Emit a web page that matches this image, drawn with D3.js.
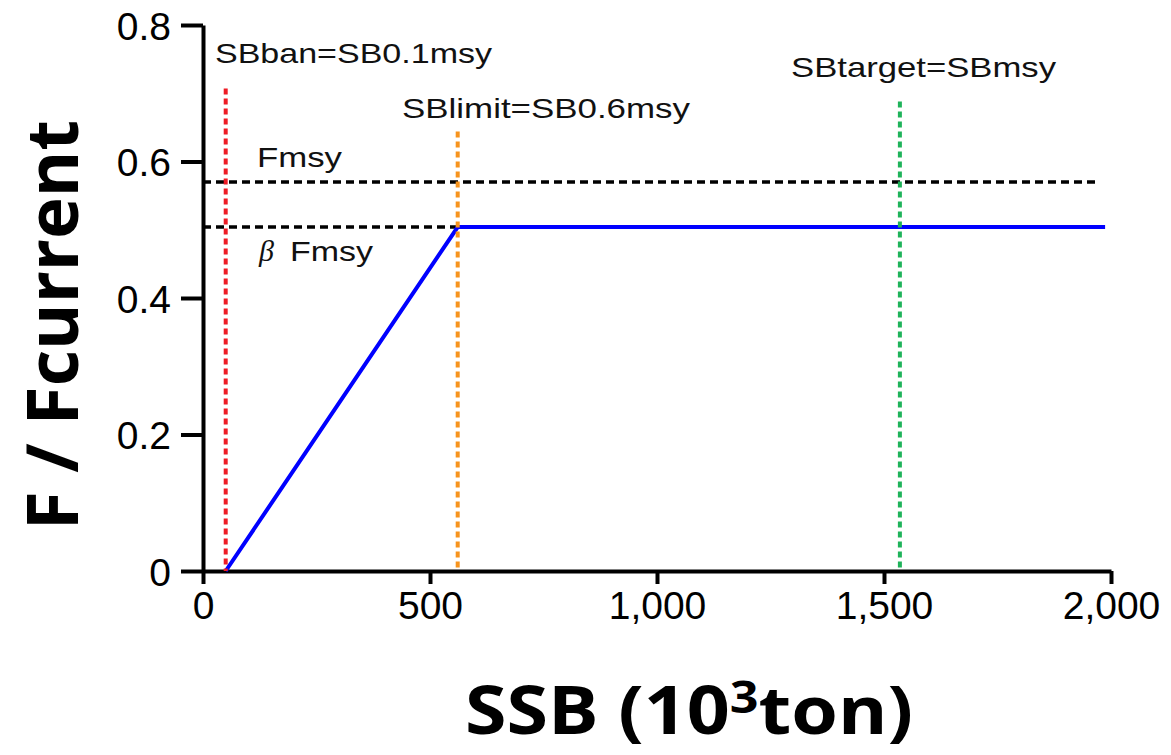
<!DOCTYPE html>
<html>
<head>
<meta charset="utf-8">
<script src="https://cdn.jsdelivr.net/npm/d3@7"></script>
<style>
  html, body { margin: 0; padding: 0; background: #fff; }
  svg { display: block; }
</style>
</head>
<body>
<svg id="chart" width="1171" height="755"></svg>
<script>
// Harvest control rule: F/Fcurrent against spawning stock biomass (10^3 ton)
const xTicks = [0, 500, 1000, 1500, 2000];
const yTicks = [0, 0.2, 0.4, 0.6, 0.8];

// Reference points
const refNames  = ["SBban=SB0.1msy", "SBlimit=SB0.6msy", "SBtarget=SBmsy"];
const refSSB    = [50, 561, 1535];
const refTopF   = [0.707, 0.644, 0.688];
const refColors = ["#ee1c25", "#f7941d", "#1fb35a"];

// Fishing mortality levels
const fmsy = 0.570;
const betaFmsy = 0.504;
const fmsyLineEnd = 1972;

// Control rule curve
const hcrSSB = [50, 561, 1987];
const hcrF   = [0, 0.504, 0.504];

const svg = d3.select("#chart");
const x = d3.scaleLinear().domain([0, 2000]).range([203, 1111]);
const y = d3.scaleLinear().domain([0, 0.8]).range([571, 25]);

// Axes
const xAxis = svg.append("g")
  .attr("transform", `translate(0,${y(0)})`)
  .call(d3.axisBottom(x).tickValues(xTicks).tickSize(13).tickSizeOuter(0)
    .tickFormat(d3.format(",")));
const yAxis = svg.append("g")
  .attr("transform", `translate(${x(0)},0)`)
  .call(d3.axisLeft(y).tickValues(yTicks).tickSize(22).tickSizeOuter(0)
    .tickFormat(d => d === 0 ? "0" : d.toFixed(1)));

[xAxis, yAxis].forEach(g => {
  g.select(".domain").attr("stroke", "#000").attr("stroke-width", 4);
  g.selectAll(".tick line").attr("stroke", "#000").attr("stroke-width", 4);
  g.selectAll(".tick text")
    .attr("fill", "#000")
    .style("font-family", "'Liberation Sans', Arial, sans-serif")
    .style("font-size", "39px");
});
xAxis.selectAll(".tick text").attr("y", 20).attr("dy", "0.71em");
yAxis.selectAll(".tick text").attr("x", -32).attr("dy", "0.36em");

// Horizontal F reference lines
svg.append("line")
  .attr("x1", x(0)).attr("x2", x(fmsyLineEnd))
  .attr("y1", y(fmsy)).attr("y2", y(fmsy))
  .attr("stroke", "#000").attr("stroke-width", 3.5)
  .attr("stroke-dasharray", "8,5");
svg.append("line")
  .attr("x1", x(0)).attr("x2", x(refSSB[1]))
  .attr("y1", y(betaFmsy)).attr("y2", y(betaFmsy))
  .attr("stroke", "#000").attr("stroke-width", 3.5)
  .attr("stroke-dasharray", "8,5");

// Control rule
const hcr = hcrSSB.map((s, i) => [s, hcrF[i]]);
svg.append("path")
  .datum(hcr)
  .attr("fill", "none")
  .attr("stroke", "#0000ff")
  .attr("stroke-width", 4)
  .attr("d", d3.line().x(d => x(d[0])).y(d => y(d[1])));

// Vertical reference biomass lines
svg.selectAll("line.ref")
  .data(refSSB)
  .join("line")
  .attr("class", "ref")
  .attr("x1", d => x(d)).attr("x2", d => x(d))
  .attr("y1", (d, i) => y(refTopF[i])).attr("y2", y(0))
  .attr("stroke", (d, i) => refColors[i])
  .attr("stroke-width", 4)
  .attr("stroke-dasharray", "6,4");

// Reference point labels
const labelFont = "'Liberation Sans', Arial, sans-serif";
const refLabelPos = [[215, 63, 277], [402, 118, 288], [791, 77, 265]];
svg.selectAll("text.reflab")
  .data(refNames)
  .join("text")
  .attr("class", "reflab")
  .attr("x", (d, i) => refLabelPos[i][0])
  .attr("y", (d, i) => refLabelPos[i][1])
  .attr("textLength", (d, i) => refLabelPos[i][2])
  .attr("lengthAdjust", "spacingAndGlyphs")
  .style("font-family", labelFont)
  .style("font-size", "28px")
  .attr("fill", "#111")
  .text(d => d);

svg.append("text")
  .attr("x", 257).attr("y", 167)
  .attr("textLength", 85).attr("lengthAdjust", "spacingAndGlyphs")
  .style("font-family", labelFont).style("font-size", "28px")
  .attr("fill", "#111")
  .text("Fmsy");

svg.append("text")
  .attr("x", 259).attr("y", 261)
  .style("font-family", "'Liberation Serif', 'Times New Roman', serif")
  .style("font-style", "italic")
  .style("font-size", "30px")
  .attr("fill", "#111")
  .text("β");
svg.append("text")
  .attr("x", 290).attr("y", 261)
  .attr("textLength", 83).attr("lengthAdjust", "spacingAndGlyphs")
  .style("font-family", labelFont).style("font-size", "28px")
  .attr("fill", "#111")
  .text("Fmsy");

// Axis titles
const titleFont = "'Open Sans', Lato, sans-serif";
const xTitle = svg.append("text")
  .attr("x", 465).attr("y", 734)
  .attr("textLength", 448).attr("lengthAdjust", "spacingAndGlyphs")
  .style("font-family", titleFont).style("font-weight", 700)
  .style("font-size", "66px")
  .attr("fill", "#000");
xTitle.append("tspan").text("SSB (10");
xTitle.append("tspan").attr("dy", -21).style("font-size", "44px").text("3");
xTitle.append("tspan").attr("dy", 21).text("ton)");

svg.append("text")
  .attr("transform", "translate(78,530) rotate(-90)")
  .attr("x", 0).attr("y", 0)
  .attr("textLength", 410).attr("lengthAdjust", "spacingAndGlyphs")
  .style("font-family", titleFont).style("font-weight", 700)
  .style("font-size", "72px")
  .attr("fill", "#000")
  .text("F / Fcurrent");
</script>
</body>
</html>
